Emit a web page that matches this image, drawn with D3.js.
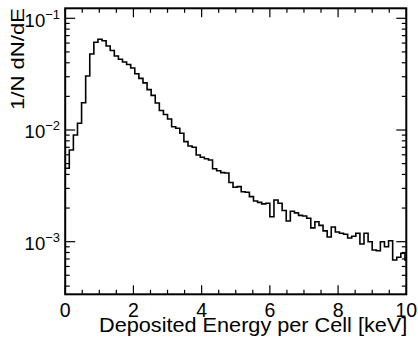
<!DOCTYPE html>
<html>
<head>
<meta charset="utf-8">
<script src="https://cdn.jsdelivr.net/npm/d3@7"></script>
<style>
  body { margin: 0; background: #fff; }
  text { font-family: "Liberation Sans", Arial, Helvetica, sans-serif; fill: #000; }
</style>
</head>
<body>
<div id="chart"></div>
<script>
// histogram: 0.12 keV bins starting at 0, values are 1/N dN/dE per bin
const binWidth = 0.12
const binValues = [
  4.54e-3, 6.62e-3, 9.02e-3, 1.148e-2, 1.756e-2, 3.04e-2, 4.79e-2, 6.11e-2, 6.49e-2, 6.30e-2,
  5.65e-2, 5.15e-2, 4.60e-2, 4.30e-2, 4.06e-2, 3.86e-2, 3.59e-2, 3.19e-2, 2.90e-2, 2.64e-2,
  2.30e-2, 2.04e-2, 1.745e-2, 1.495e-2, 1.377e-2, 1.254e-2, 1.07e-2, 1.035e-2, 9.34e-3, 7.86e-3,
  7.19e-3, 7.00e-3, 5.97e-3, 5.70e-3, 5.53e-3, 5.39e-3, 4.50e-3, 4.31e-3, 4.15e-3, 4.12e-3,
  3.39e-3, 3.07e-3, 3.11e-3, 2.80e-3, 2.77e-3, 2.53e-3, 2.31e-3, 2.25e-3, 2.18e-3, 2.21e-3,
  1.67e-3, 2.36e-3, 2.21e-3, 1.90e-3, 1.53e-3, 1.875e-3, 1.81e-3, 1.72e-3, 1.70e-3, 1.62e-3,
  1.33e-3, 1.51e-3, 1.40e-3, 1.25e-3, 1.10e-3, 1.355e-3, 1.22e-3, 1.19e-3, 1.165e-3, 1.08e-3,
  1.12e-3, 1.19e-3, 9.54e-4, 1.19e-3, 1.0e-3, 8.43e-4, 8.30e-4, 1.0e-3, 9.02e-4, 1.02e-3,
  6.86e-4, 7.25e-4, 7.87e-4, 6.86e-4
]
const xTickLabels = [0, 2, 4, 6, 8, 10]
const yDecades = [-3, -2, -1]
const xTitle = "Deposited Energy per Cell [keV]"
const yTitle = "1/N dN/dE"

const width = 418
const height = 341
const margin = {top: 8.3, right: 11.7, bottom: 46.7, left: 65.2}

const svg = d3.select("#chart")
    .append("svg")
    .attr("width", width)
    .attr("height", height)

const x = d3.scaleLinear()
    .domain([0, 10])
    .range([margin.left, width - margin.right])

const y = d3.scaleLog()
    .domain([3.38e-4, 0.1229])
    .range([height - margin.bottom, margin.top])

svg.append("clipPath")
    .attr("id", "frame-clip")
    .append("rect")
    .attr("x", margin.left)
    .attr("y", margin.top)
    .attr("width", width - margin.left - margin.right)
    .attr("height", height - margin.top - margin.bottom)

// step outline of the histogram
const points = binValues.map((v, i) => [i * binWidth, v])
points.push([binValues.length * binWidth, binValues[binValues.length - 1]])

const line = d3.line()
    .x(d => x(d[0]))
    .y(d => y(d[1]))
    .curve(d3.curveStepAfter)

svg.append("path")
    .datum(points)
    .attr("clip-path", "url(#frame-clip)")
    .attr("fill", "none")
    .attr("stroke", "#000")
    .attr("stroke-width", 1.6)
    .attr("d", line)

// ticks on all four sides, ROOT style
const x0 = margin.left, x1 = width - margin.right
const y0 = height - margin.bottom, y1 = margin.top
const xMajor = d3.range(0, 10.001, 2)
const xMinor = d3.range(0, 10.001, 0.5).filter(v => v % 2 !== 0)
const yMajor = yDecades.map(e => Math.pow(10, e))
const yMinor = []
for (let e = -4; e <= -1; e++) {
  for (let m = 2; m <= 9; m++) {
    const v = m * Math.pow(10, e)
    if (v > y.domain()[0] && v < y.domain()[1]) yMinor.push(v)
  }
}

const ticks = svg.append("g")
    .attr("stroke", "#000")
    .attr("stroke-width", 1.2)

xMajor.concat(xMinor).forEach(v => {
  const len = xMajor.includes(v) ? 9 : 4.5
  ticks.append("line").attr("x1", x(v)).attr("x2", x(v)).attr("y1", y0).attr("y2", y0 - len)
  ticks.append("line").attr("x1", x(v)).attr("x2", x(v)).attr("y1", y1).attr("y2", y1 + len)
})
yMajor.concat(yMinor).forEach(v => {
  const len = yMajor.includes(v) ? 10 : 4.5
  ticks.append("line").attr("x1", x0).attr("x2", x0 + len).attr("y1", y(v)).attr("y2", y(v))
  ticks.append("line").attr("x1", x1).attr("x2", x1 - len).attr("y1", y(v)).attr("y2", y(v))
})

// frame
svg.append("rect")
    .attr("x", x0)
    .attr("y", y1)
    .attr("width", x1 - x0)
    .attr("height", y0 - y1)
    .attr("fill", "none")
    .attr("stroke", "#000")
    .attr("stroke-width", 2)

// x tick labels
svg.selectAll(".xlabel")
    .data(xTickLabels)
    .enter()
    .append("text")
    .attr("class", "xlabel")
    .attr("x", d => x(d))
    .attr("y", 316.5)
    .attr("text-anchor", "middle")
    .style("font-size", "19.5px")
    .text(d => d)

// y tick labels 10^n
yDecades.forEach(e => {
  const t = svg.append("text")
      .attr("x", 60)
      .attr("y", y(Math.pow(10, e)) + 8.5)
      .attr("text-anchor", "end")
      .style("font-size", "18.5px")
  t.append("tspan").text("10")
  t.append("tspan")
      .attr("dy", -8)
      .style("font-size", "13px")
      .text("\u2212" + Math.abs(e))
})

// axis titles
svg.append("text")
    .attr("x", 99)
    .attr("y", 332)
    .attr("textLength", x1 + 1 - 99)
    .attr("lengthAdjust", "spacingAndGlyphs")
    .style("font-size", "19.5px")
    .text(xTitle)

svg.append("text")
    .attr("transform", `translate(23.5,110) rotate(-90)`)
    .attr("textLength", 102)
    .attr("lengthAdjust", "spacingAndGlyphs")
    .style("font-size", "19px")
    .text(yTitle)
</script>
</body>
</html>
